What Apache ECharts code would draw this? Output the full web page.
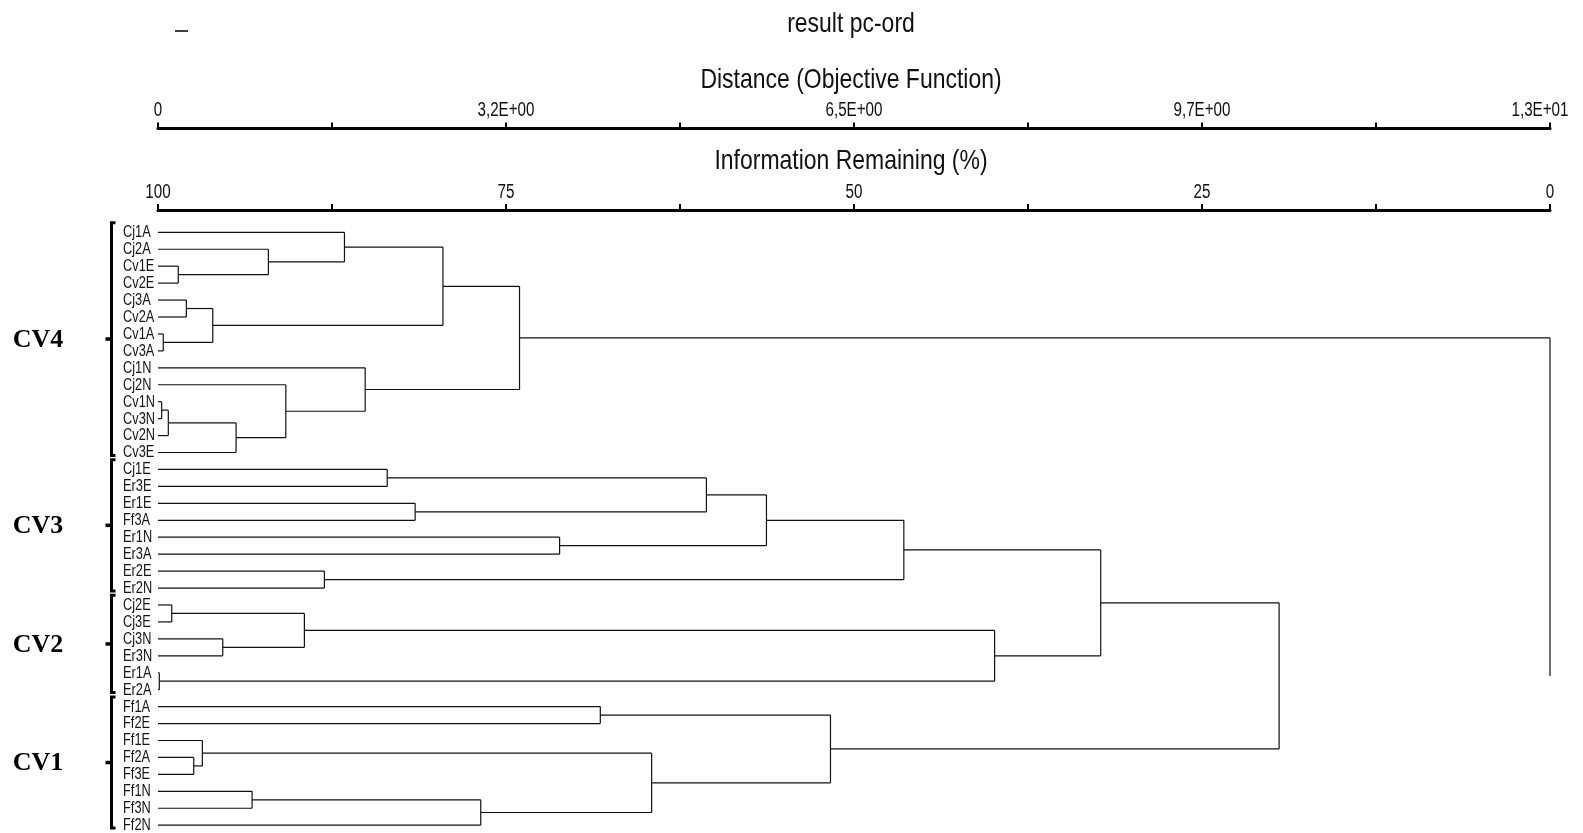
<!DOCTYPE html>
<html>
<head>
<meta charset="utf-8">
<script src="https://cdn.jsdelivr.net/npm/echarts@6/dist/echarts.min.js"></script>
<style>
  html, body { margin: 0; padding: 0; background: #fff; overflow: hidden; }
  #chart { width: 1583px; height: 833px; }
</style>
</head>
<body>
<div id="chart"></div>
<script>
// ---------------- data ----------------
const leafLabels = [
  'Cj1A','Cj2A','Cv1E','Cv2E','Cj3A','Cv2A','Cv1A','Cv3A','Cj1N','Cj2N','Cv1N','Cv3N','Cv2N','Cv3E',
  'Cj1E','Er3E','Er1E','Ff3A','Er1N','Er3A','Er2E','Er2N',
  'Cj2E','Cj3E','Cj3N','Er3N','Er1A','Er2A',
  'Ff1A','Ff2E','Ff1E','Ff2A','Ff3E','Ff1N','Ff3N','Ff2N'
];
// merges: node id = 36 + index
const mergeLeft  = [ 6, 26, 10, 38, 22,  2,  4, 31, 30, 42, 24, 39, 33,  1,  9, 40, 20,  0,  8, 14, 16, 53, 48, 57, 18, 28, 44, 55, 63, 61, 64, 51, 66, 68, 59];
const mergeRight = [ 7, 27, 11, 12, 23,  3,  5, 32, 43, 36, 25, 13, 34, 41, 47, 46, 21, 49, 50, 15, 17, 45, 35, 54, 19, 29, 58, 56, 60, 62, 52, 37, 67, 65, 69];
const mergeHeight = [
  0.049, 0.012, 0.034, 0.096, 0.128, 0.189, 0.264, 0.333, 0.413, 0.510,
  0.603, 0.727, 0.876, 1.028, 1.190, 1.363, 1.549, 1.736, 1.929, 2.134,
  2.394, 2.653, 3.005, 3.366, 3.739, 4.118, 4.596, 5.106, 5.665, 6.261,
  6.944, 7.789, 8.777, 10.438, 12.96
];
const distMax = 12.96;
const distTickLabels = ['0','','3,2E+00','','6,5E+00','','9,7E+00','','1,3E+01'];
const infoTickLabels = ['0','','25','','50','','75','','100']; // ticks from value 0 upward
const groupNames = ['CV4','CV3','CV2','CV1'];
const groupFirst = [0, 14, 22, 28];
const groupLast  = [13, 21, 27, 35];
const titleText = 'result pc-ord';
const distAxisName = 'Distance (Objective Function)';
const infoAxisName = 'Information Remaining (%)';
const drawRootLowerArm = false; // the reference lacks this segment

// ---------------- build dendrogram segments ----------------
const nLeaf = leafLabels.length;
const nodeY = [], nodeH = [];
for (let i = 0; i < nLeaf; i++) { nodeY.push(i); nodeH.push(0); }
const segments = [];
for (let k = 0; k < mergeHeight.length; k++) {
  const a = mergeLeft[k], b = mergeRight[k], h = mergeHeight[k];
  const ya = nodeY[a], yb = nodeY[b];
  const isRoot = k === mergeHeight.length - 1;
  segments.push([nodeH[a], ya, h, ya]);
  if (!(isRoot && !drawRootLowerArm)) segments.push([nodeH[b], yb, h, yb]);
  segments.push([h, ya, h, yb]);
  nodeY.push((ya + yb) / 2);
  nodeH.push(h);
}

const SANS = '"Liberation Sans", Arial, Helvetica, sans-serif';
const SERIF = '"Liberation Serif", "Times New Roman", serif';
const NARROW_SCALE = 0.82;

const chart = echarts.init(document.getElementById('chart'), null, { renderer: 'canvas' });

const axisCommon = {
  type: 'value', position: 'top',
  axisLine: { show: true, onZero: false, lineStyle: { color: '#000', width: 3 } },
  axisTick: { show: true, length: 6, lineStyle: { color: '#000', width: 2 } },
  axisLabel: { show: false },
  splitLine: { show: false }
};

const option = {
  backgroundColor: '#fff',
  animation: false,
  grid: { left: 158, right: 33, top: 232.3, bottom: 7.8, containLabel: false },
  xAxis: [
    Object.assign({}, axisCommon, { min: 0, max: distMax, interval: distMax / 8, offset: 103.8 }),
    Object.assign({}, axisCommon, { min: 0, max: 100, interval: 12.5, inverse: true, offset: 22.3 })
  ],
  yAxis: {
    type: 'value', min: 0, max: nLeaf - 1, interval: 1, inverse: true, show: false
  },
  series: [
    {
      type: 'custom', name: 'dendrogram', xAxisIndex: 0, yAxisIndex: 0, clip: false,
      data: segments,
      encode: { x: [0, 2], y: [1, 3] },
      renderItem: function (params, api) {
        const p1 = api.coord([api.value(0), api.value(1)]);
        const p2 = api.coord([api.value(2), api.value(3)]);
        return {
          type: 'line',
          shape: { x1: p1[0], y1: p1[1], x2: p2[0], y2: p2[1] },
          style: { stroke: '#111', lineWidth: 1.2 }
        };
      }
    },
    {
      type: 'custom', name: 'leafLabels', xAxisIndex: 0, yAxisIndex: 0, clip: false,
      data: leafLabels.map((l, i) => [0, i]),
      encode: { x: 0, y: 1 },
      renderItem: function (params, api) {
        const p = api.coord([0, api.value(1)]);
        return {
          type: 'text', x: p[0] - 35, y: p[1] + 0.5, scaleX: 0.8,
          style: {
            text: leafLabels[params.dataIndex], fontFamily: SANS, fontSize: 16,
            fill: '#151515', align: 'left', verticalAlign: 'middle'
          }
        };
      }
    },
    {
      type: 'custom', name: 'groups', xAxisIndex: 0, yAxisIndex: 0, clip: false,
      data: groupFirst.map((f, i) => [0, f, groupLast[i], i]),
      encode: { x: 0, y: 1 },
      renderItem: function (params, api) {
        const f = api.value(1), l = api.value(2), gi = api.value(3);
        const x0 = api.coord([0, f])[0];
        const bx = x0 - 46.5;
        const yTop = api.coord([0, f - 0.57])[1];
        const yBot = api.coord([0, l + 0.17])[1];
        const yMid = (yTop + yBot) / 2;
        return {
          type: 'group',
          children: [
            {
              type: 'polyline',
              shape: { points: [[bx + 4, yTop], [bx, yTop], [bx, yBot], [bx + 4, yBot]] },
              style: { stroke: '#000', lineWidth: 3, fill: null }
            },
            {
              type: 'line',
              shape: { x1: bx, y1: yMid, x2: bx - 6, y2: yMid },
              style: { stroke: '#000', lineWidth: 3.5 }
            },
            {
              type: 'text', x: 38, y: yMid + 1,
              style: {
                text: groupNames[gi], fontFamily: SERIF, fontWeight: 'bold', fontSize: 26,
                fill: '#000', align: 'center', verticalAlign: 'middle'
              }
            }
          ]
        };
      }
    }
  ]
};
chart.setOption(option);

// ---------------- texts placed through the axes' scales ----------------
function narrowText(x, y, text, size, sx) {
  return {
    type: 'text', x: x, y: y, scaleX: sx || NARROW_SCALE,
    style: { text: text, fontFamily: SANS, fontSize: size, fill: '#111', align: 'center', verticalAlign: 'middle' }
  };
}
const gfx = [];
const xLeft = chart.convertToPixel({ xAxisIndex: 0 }, 0);
const xRight = chart.convertToPixel({ xAxisIndex: 0 }, distMax);
const xMid = (xLeft + xRight) / 2 - 3;
gfx.push(narrowText(xMid, 24, titleText, 28));
gfx.push(narrowText(xMid, 80.5, distAxisName, 28));
gfx.push(narrowText(xMid, 161.5, infoAxisName, 28));
distTickLabels.forEach((t, i) => {
  if (!t) return;
  let x = chart.convertToPixel({ xAxisIndex: 0 }, i * distMax / 8);
  if (i === distTickLabels.length - 1) x -= 10; // last label pulled inside, as in the source
  gfx.push(narrowText(x, 110, t, 20, 0.76));
});
infoTickLabels.forEach((t, i) => {
  if (!t) return;
  const x = chart.convertToPixel({ xAxisIndex: 1 }, i * 12.5);
  gfx.push(narrowText(x, 192, t, 20, 0.76));
});
gfx.push({ type: 'line', shape: { x1: 175, y1: 31, x2: 188, y2: 31 }, style: { stroke: '#000', lineWidth: 1.5 } });
chart.setOption({ graphic: gfx });
</script>
</body>
</html>
